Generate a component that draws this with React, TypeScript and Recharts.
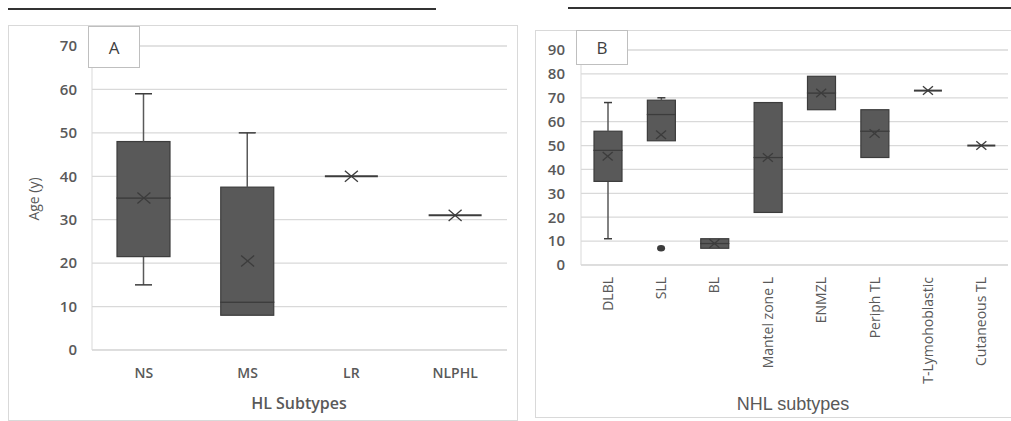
import { ComposedChart, Bar, Scatter, XAxis, YAxis, CartesianGrid } from 'recharts';

// Panel A – Hodgkin lymphoma subtypes
const hlTypes = ['NS', 'MS', 'LR', 'NLPHL'];
const hlMin = [15, 8, 40, 31];
const hlQ1 = [21.5, 8, 40, 31];
const hlMedian = [35, 11, 40, 31];
const hlQ3 = [48, 37.5, 40, 31];
const hlMax = [59, 50, 40, 31];
const hlMean = [35, 20.5, 40, 31];
const hlOutliers: (number | null)[] = [null, null, null, null];
const hlTicks = [0, 10, 20, 30, 40, 50, 60, 70];

// Panel B – non-Hodgkin lymphoma subtypes
const nhlTypes = ['DLBL', 'SLL', 'BL', 'Mantel zone L', 'ENMZL', 'Periph TL', 'T-Lymohoblastic', 'Cutaneous TL'];
const nhlMin = [11, 52, 7, 22, 65, 45, 73, 50];
const nhlQ1 = [35, 52, 7, 22, 65, 45, 73, 50];
const nhlMedian = [48, 63, 9, 45, 72, 56, 73, 50];
const nhlQ3 = [56, 69, 11, 68, 79, 65, 73, 50];
const nhlMax = [68, 70, 11, 68, 79, 65, 73, 50];
const nhlMean = [45.5, 54.5, 9, 45, 72, 55, 73, 50];
const nhlOutliers: (number | null)[] = [null, 7, null, null, null, null, null, null];
const nhlTicks = [0, 10, 20, 30, 40, 50, 60, 70, 80, 90];

const FONT = '"Open Sans", sans-serif';
const TEXT = '#595959';
const GRID = '#d9d9d9';
const BOX = '#595959';
const EDGE = '#3c3c3c';

function buildRows(names: string[], min: number[], q1: number[], med: number[], q3: number[], max: number[], mean: number[], out: (number | null)[]) {
  return names.map((name, i) => ({
    name,
    base: min[i],
    lowW: q1[i] - min[i],
    lowBox: med[i] - q1[i],
    highBox: q3[i] - med[i],
    highW: max[i] - q3[i],
    flat: q1[i] === q3[i] ? med[i] : null,
    mean: mean[i],
    outlier: out[i],
  }));
}

const hlRows = buildRows(hlTypes, hlMin, hlQ1, hlMedian, hlQ3, hlMax, hlMean, hlOutliers);
const nhlRows = buildRows(nhlTypes, nhlMin, nhlQ1, nhlMedian, nhlQ3, nhlMax, nhlMean, nhlOutliers);

const whisker = (cap: 'top' | 'bottom', capW: number) => (p: any) => {
  const { x, y, width, height } = p;
  if (!height || height < 0.5) return <g />;
  const cx = x + width / 2;
  const cy = cap === 'top' ? y : y + height;
  return (
    <g>
      <line x1={cx} x2={cx} y1={y} y2={y + height} stroke={BOX} strokeWidth={1.5} />
      <line x1={cx - capW / 2} x2={cx + capW / 2} y1={cy} y2={cy} stroke={EDGE} strokeWidth={1.5} />
    </g>
  );
};

const boxShape = (p: any) => {
  const { x, y, width, height } = p;
  if (!height || height < 0.5) return <g />;
  return <rect x={x} y={y} width={width} height={height} fill={BOX} stroke={EDGE} strokeWidth={1.2} />;
};

const flatShape = (w: number) => (p: any) => {
  const { cx, cy } = p;
  if (cy == null || Number.isNaN(cy)) return <g />;
  return <line x1={cx - w / 2} x2={cx + w / 2} y1={cy} y2={cy} stroke={EDGE} strokeWidth={2} />;
};

const meanShape = (s: number) => (p: any) => {
  const { cx, cy } = p;
  if (cy == null || Number.isNaN(cy)) return <g />;
  return (
    <g stroke={EDGE} strokeWidth={1.3}>
      <line x1={cx - s} x2={cx + s} y1={cy - s * 0.85} y2={cy + s * 0.85} />
      <line x1={cx - s} x2={cx + s} y1={cy + s * 0.85} y2={cy - s * 0.85} />
    </g>
  );
};

const outlierShape = (p: any) => {
  const { cx, cy } = p;
  if (cy == null || Number.isNaN(cy)) return <g />;
  return <ellipse cx={cx} cy={cy} rx={4} ry={3.3} fill={EDGE} />;
};

const RotTick = (p: any) => {
  const { x, y, payload } = p;
  return (
    <text x={x} y={y} transform={`rotate(-90, ${x}, ${y})`} textAnchor="end" dy="0.36em"
      fill={TEXT} fontSize={14} fontFamily={FONT}>
      {payload.value}
    </text>
  );
};

function BoxSeries(boxW: number, capW: number, markS: number) {
  return [
    <Bar key="base" dataKey="base" stackId="b" fill="transparent" barSize={boxW} isAnimationActive={false} />,
    <Bar key="lowW" dataKey="lowW" stackId="b" barSize={boxW} shape={whisker('bottom', capW)} isAnimationActive={false} />,
    <Bar key="lowBox" dataKey="lowBox" stackId="b" barSize={boxW} shape={boxShape} isAnimationActive={false} />,
    <Bar key="highBox" dataKey="highBox" stackId="b" barSize={boxW} shape={boxShape} isAnimationActive={false} />,
    <Bar key="highW" dataKey="highW" stackId="b" barSize={boxW} shape={whisker('top', capW)} isAnimationActive={false} />,
    <Scatter key="flat" dataKey="flat" shape={flatShape(boxW)} isAnimationActive={false} />,
    <Scatter key="mean" dataKey="mean" shape={meanShape(markS)} isAnimationActive={false} />,
    <Scatter key="out" dataKey="outlier" shape={outlierShape} isAnimationActive={false} />,
  ];
}

const letterBox = (left: number, top: number, w: number, h: number, t: string) => (
  <div style={{ position: 'absolute', left, top, width: w, height: h, border: '1px solid #bfbfbf', background: '#fff',
    boxSizing: 'border-box', display: 'flex', alignItems: 'center', justifyContent: 'center',
    fontFamily: FONT, fontSize: 17, color: '#404040' }}>{t}</div>
);

export default function App() {
  return (
    <div style={{ position: 'absolute', left: 0, top: 0, width: 1011, height: 421, background: '#fff', overflow: 'hidden' }}>
      {/* scan edges */}
      <div style={{ position: 'absolute', left: 8, top: 8, width: 428, height: 1.5, background: '#333' }} />
      <div style={{ position: 'absolute', left: 568, top: 7, width: 443, height: 1.5, background: '#333' }} />
      <div style={{ position: 'absolute', left: 8, top: 25, width: 510, height: 396, border: '1px solid #d9d9d9', boxSizing: 'border-box' }} />
      <div style={{ position: 'absolute', left: 535, top: 30, width: 490, height: 388, border: '1px solid #d9d9d9', boxSizing: 'border-box' }} />

      <div style={{ position: 'absolute', left: 0, top: 0 }}>
        <ComposedChart width={520} height={421} data={hlRows} margin={{ top: 46, right: 13, bottom: 21, left: 52 }}>
          <CartesianGrid vertical={false} stroke={GRID} strokeWidth={1.3} />
          <XAxis dataKey="name" height={50} axisLine={{ stroke: GRID }} tickLine={false} tickSize={0} tickMargin={18}
            tick={{ fill: TEXT, fontSize: 14, fontFamily: FONT, fontWeight: 600 }} />
          <YAxis width={40} domain={[0, 70]} ticks={hlTicks} axisLine={{ stroke: GRID }} tickLine={false} tickSize={0}
            tickMargin={15} tick={{ fill: TEXT, fontSize: 15, fontFamily: FONT, fontWeight: 600 }} />
          {BoxSeries(53, 17, 6.5)}
        </ComposedChart>
      </div>
      {letterBox(88, 26, 52, 42, 'A')}
      <div style={{ position: 'absolute', left: 33, top: 199, transform: 'translate(-50%, -50%) rotate(-90deg)',
        fontFamily: FONT, fontSize: 14, color: TEXT, whiteSpace: 'nowrap' }}>Age (y)</div>
      <div style={{ position: 'absolute', left: 299, top: 403, transform: 'translate(-50%, -50%)',
        fontFamily: FONT, fontSize: 16, fontWeight: 600, color: TEXT, whiteSpace: 'nowrap' }}>HL Subtypes</div>

      <div style={{ position: 'absolute', left: 520, top: 0 }}>
        <ComposedChart width={491} height={421} data={nhlRows} margin={{ top: 50, right: 3, bottom: 6, left: 21 }}>
          <CartesianGrid vertical={false} stroke={GRID} strokeWidth={1.3} />
          <XAxis dataKey="name" height={150} axisLine={{ stroke: GRID }} tickLine={false} tickSize={0} tickMargin={12}
            interval={0} tick={<RotTick />} />
          <YAxis width={40} domain={[0, 90]} ticks={nhlTicks} axisLine={{ stroke: GRID }} tickLine={false} tickSize={0}
            tickMargin={16} tick={{ fill: TEXT, fontSize: 15, fontFamily: FONT, fontWeight: 600 }} />
          {BoxSeries(28, 8, 5)}
        </ComposedChart>
      </div>
      {letterBox(576, 30, 52, 35, 'B')}
      <div style={{ position: 'absolute', left: 793, top: 404, transform: 'translate(-50%, -50%)',
        fontFamily: '"Liberation Sans", Arial, sans-serif', fontSize: 18, color: TEXT, whiteSpace: 'nowrap' }}>NHL subtypes</div>
    </div>
  );
}
